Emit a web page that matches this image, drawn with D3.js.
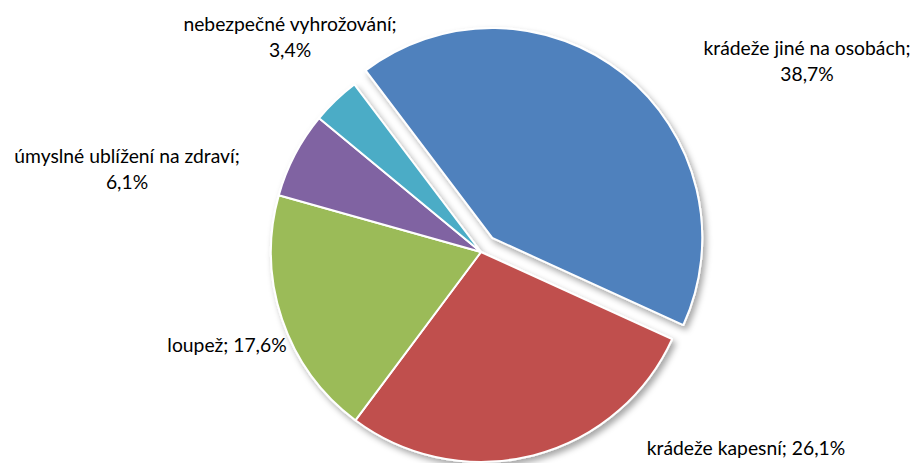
<!DOCTYPE html>
<html>
<head>
<meta charset="utf-8">
<script src="https://cdn.jsdelivr.net/npm/d3@7"></script>
<style>
  body { margin: 0; background: #fff; }
  text { font-family: Lato, "Liberation Sans", sans-serif; fill: #000; }
</style>
</head>
<body>
<div id="chart"></div>
<script>
// data
var categories = ["krádeže jiné na osobách", "krádeže kapesní", "loupež", "úmyslné ublížení na zdraví", "nebezpečné vyhrožování"];
var values = [38.7, 26.1, 17.6, 6.1, 3.4];
var valueLabels = ["38,7%", "26,1%", "17,6%", "6,1%", "3,4%"];
var colors = ["#4F81BD", "#C0504D", "#9BBB59", "#8064A2", "#4BACC6"];

var width = 922, height = 463;
var cx = 481, cy = 252, radius = 210, explode = 18;

var svg = d3.select("#chart")
  .append("svg")
    .attr("width", width)
    .attr("height", height);

// soft shadow like excel
var defs = svg.append("defs");
defs.append("filter")
    .attr("id", "shadow")
    .attr("x", "-10%").attr("y", "-10%")
    .attr("width", "130%").attr("height", "130%")
  .append("feDropShadow")
    .attr("dx", 3).attr("dy", 4)
    .attr("stdDeviation", 3)
    .attr("flood-color", "#000")
    .attr("flood-opacity", 0.35);

var start = -37.1 * Math.PI / 180;
var pie = d3.pie()
  .sort(null)
  .startAngle(start)
  .endAngle(start + 2 * Math.PI)
  .value(function(d) { return d; });

var arc = d3.arc().innerRadius(0).outerRadius(radius);

var arcs = pie(values);

var g = svg.append("g")
  .attr("transform", "translate(" + cx + "," + cy + ")")
  .attr("filter", "url(#shadow)");

g.selectAll("path")
  .data(arcs)
  .enter()
  .append("path")
    .attr("d", arc)
    .attr("fill", function(d, i) { return colors[i]; })
    .attr("stroke", "#fff")
    .attr("stroke-width", 2)
    .attr("stroke-linejoin", "round")
    .attr("transform", function(d, i) {
      if (i != 0) return null;
      var a = (d.startAngle + d.endAngle) / 2;
      return "translate(" + (Math.sin(a) * explode) + "," + (-Math.cos(a) * explode) + ")";
    });

// labels (positions picked by hand from the original)
var labelPos = [
  {x: 807, y: 55, lines: 2},
  {x: 746, y: 455, lines: 1},
  {x: 227, y: 352, lines: 1},
  {x: 127, y: 163, lines: 2},
  {x: 290, y: 31, lines: 2}
];

labelPos.forEach(function(p, i) {
  var t = svg.append("text")
    .attr("text-anchor", "middle")
    .style("font-size", "19.3px");
  if (p.lines == 2) {
    t.append("tspan").attr("x", p.x).attr("y", p.y).text(categories[i] + ";");
    t.append("tspan").attr("x", p.x).attr("y", p.y + 26).text(valueLabels[i]);
  } else {
    t.attr("x", p.x).attr("y", p.y).text(categories[i] + "; " + valueLabels[i]);
  }
});
</script>
</body>
</html>
